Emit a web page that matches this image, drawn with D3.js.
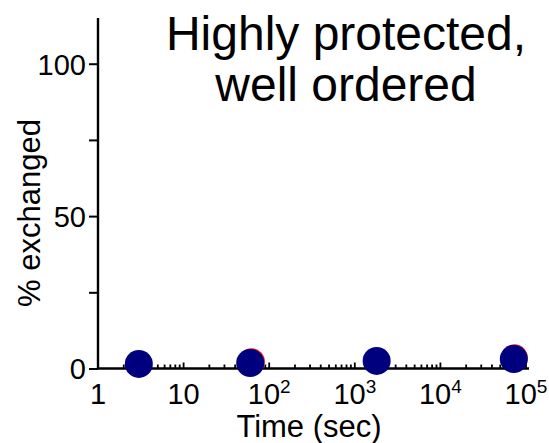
<!DOCTYPE html>
<html>
<head>
<meta charset="utf-8">
<script src="https://cdn.jsdelivr.net/npm/d3@7"></script>
<style>
  body { margin: 0; background: #fff; }
  svg text { font-family: "Liberation Sans", Arial, sans-serif; fill: #000; }
</style>
</head>
<body>
<svg id="chart" width="549" height="443"></svg>
<script>
// exchange data (time in sec, % exchanged)
const times = [3, 60, 1800, 72000];
const exchanged = [1.5, 1.8, 2.5, 3.1];
// second series mostly hidden behind the blue one
const timesRed = [62, 73000];
const exchangedRed = [2.2, 3.5];

const yTicks = [0, 25, 50, 75, 100];
const yLabels = [0, 50, 100];
const xTicks = [1, 10, 100, 1000, 10000, 100000];
const xTickLabels = ["1", "10", "10|2", "10|3", "10|4", "10|5"];
const titleLines = ["Highly protected,", "well ordered"];

const svg = d3.select("#chart");

const x = d3.scaleLog().domain([1, 1e5]).range([98, 526]);
const y = d3.scaleLinear().domain([0, 115]).range([368.5, 18]);

// y axis
const yAxis = svg.append("g").attr("transform", "translate(" + x(1) + ",0)")
  .call(d3.axisLeft(y).tickValues(yTicks).tickSize(9).tickPadding(3)
    .tickFormat(d => yLabels.includes(d) ? d : ""));
yAxis.select(".domain").attr("d", "M0," + y(115) + "V" + y(0)).attr("stroke-width", 2.4);
yAxis.selectAll(".tick line").attr("stroke-width", 2);
yAxis.selectAll(".tick text").style("font-size", "29px").attr("dy", "0.36em");

// x axis (line + upward log ticks)
const xg = svg.append("g").attr("transform", "translate(0," + y(0) + ")");
xg.append("line").attr("x1", x(1)).attr("x2", x(1e5) + 3)
  .attr("stroke", "#000").attr("stroke-width", 2.4);

const minor = [];
for (let e = 0; e < 5; e++) {
  for (let m = 2; m <= 9; m++) minor.push(m * Math.pow(10, e));
}
xg.selectAll("line.minor").data(minor).join("line").attr("class", "minor")
  .attr("x1", d => x(d)).attr("x2", d => x(d))
  .attr("y1", 0).attr("y2", -4).attr("stroke", "#000").attr("stroke-width", 1.8);
xg.selectAll("line.major").data(xTicks.slice(1)).join("line").attr("class", "major")
  .attr("x1", d => x(d)).attr("x2", d => x(d))
  .attr("y1", 0).attr("y2", -6).attr("stroke", "#000").attr("stroke-width", 1.8);

const xl = xg.selectAll("text.xl").data(xTicks).join("text").attr("class", "xl")
  .attr("x", d => x(d)).attr("y", 35)
  .attr("text-anchor", "middle").style("font-size", "29px");
xl.each(function(d, i) {
  const parts = xTickLabels[i].split("|");
  const t = d3.select(this);
  t.append("tspan").text(parts[0]);
  if (parts[1]) t.append("tspan").attr("dy", -11).style("font-size", "19px").text(parts[1]);
});

// axis titles
svg.append("text").attr("x", 309).attr("y", 437)
  .attr("text-anchor", "middle").style("font-size", "31px").text("Time (sec)");
svg.append("text").attr("transform", "translate(40,213) rotate(-90)")
  .attr("text-anchor", "middle").style("font-size", "31px").text("% exchanged");

// title
svg.selectAll("text.title").data(titleLines).join("text").attr("class", "title")
  .attr("x", 346).attr("y", (d, i) => 50 + i * 51)
  .attr("text-anchor", "middle").style("font-size", "48px").text(d => d);

// points
svg.selectAll("circle.red").data(timesRed).join("circle").attr("class", "red")
  .attr("cx", d => x(d)).attr("cy", (d, i) => y(exchangedRed[i]))
  .attr("r", 13.5).attr("fill", "#e0191f");
svg.selectAll("circle.blue").data(times).join("circle").attr("class", "blue")
  .attr("cx", d => x(d)).attr("cy", (d, i) => y(exchanged[i]))
  .attr("r", 14).attr("fill", "#00007f");
</script>
</body>
</html>
